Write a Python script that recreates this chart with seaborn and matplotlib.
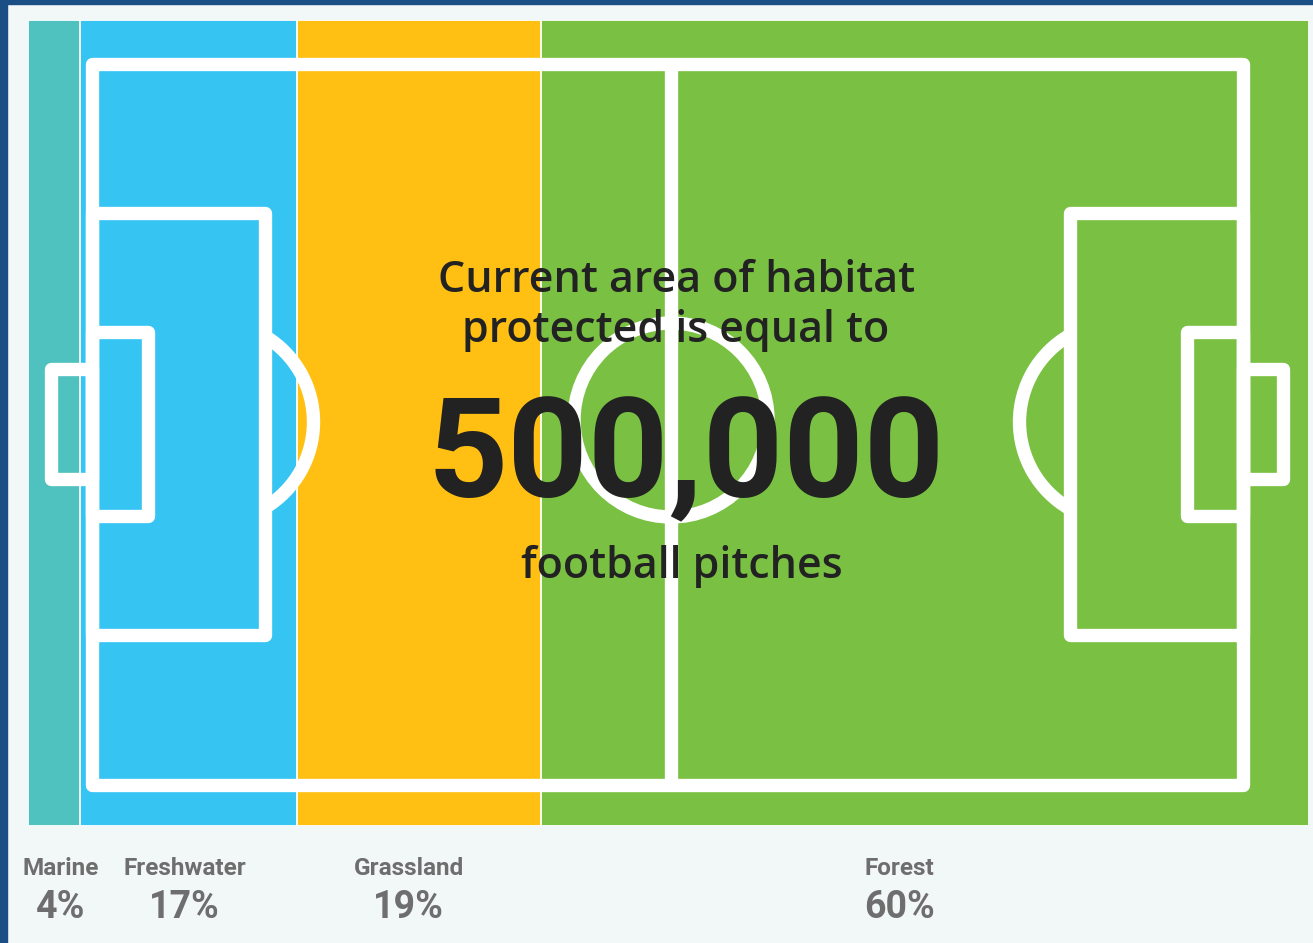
import numpy as np
import matplotlib
matplotlib.use("Agg")
import matplotlib.pyplot as plt
import matplotlib.patches as mpatches
import matplotlib.transforms as mtrans
import seaborn as sns

# ---- data ----
habitats = ["Marine", "Freshwater", "Grassland", "Forest"]
shares = [4, 17, 19, 60]
percent_labels = ["4%", "17%", "19%", "60%"]
colors = ["#4FC1BE", "#36C5F3", "#FFC013", "#7AC143"]
label_x = [2.5, 12.2, 29.7, 68.0]   # label anchor positions on the share axis (%)
headline = ["Current area of habitat", "protected is equal to"]
big_number = "500,000"
footer = "football pitches"

W, H = 1313, 943
DPI = 100
BG = "#F2F7F7"
DARK = "#1C4E86"

sns.set_theme(style="white")
plt.rcParams["font.family"] = ["Roboto", "DejaVu Sans"]

fig = plt.figure(figsize=(W / DPI, H / DPI), dpi=DPI, facecolor=BG)

# dark frame on top and left
fig.patches.append(mpatches.Rectangle((0, 0), 7 / W, 1, transform=fig.transFigure,
                                      color=DARK, zorder=0))
fig.patches.append(mpatches.Rectangle((0, 1 - 4 / H), 1, 4 / H, transform=fig.transFigure,
                                      color=DARK, zorder=0))

# ---- stacked 100% bar ----
left_px, right_px, top_px, bot_px = 28.3, 1309, 20, 826
ax = fig.add_axes([left_px / W, (H - bot_px) / H, (right_px - left_px) / W, (bot_px - top_px) / H])
cum = np.cumsum(shares)
for end, c in zip(cum[::-1], colors[::-1]):
    sns.barplot(x=[end], y=["habitat"], orient="h", color=c, saturation=1,
                width=1.0, edgecolor="white", linewidth=1.3, ax=ax)
ax.set_xlim(0, 100)
ax.set_ylim(-0.5, 0.5)
ax.axis("off")

# ---- overlay in pixel coordinates: pitch + text ----
ov = fig.add_axes([0, 0, 1, 1], facecolor="none")
ov.set_xlim(0, W)
ov.set_ylim(H, 0)
ov.axis("off")

lw = 9.6
line_kw = dict(fill=False, ec="white", lw=lw, joinstyle="round")

def rect(x0, y0, x1, y1):
    ov.add_patch(mpatches.Rectangle((x0, y0), x1 - x0, y1 - y0, **line_kw))

# outer boundary
rect(92, 63.5, 1243, 784.5)
# halfway line
ov.plot([671, 671], [63.5, 784.5], color="white", lw=lw, solid_capstyle="butt")
# centre circle
ov.add_patch(mpatches.Circle((671, 420), 97, fill=False, ec="white", lw=lw))
# left penalty area, goal area, goal
rect(92, 213, 265, 634.5)
rect(92, 332, 148, 516)
rect(51, 369, 92, 479)
# right penalty area, goal area, goal
rect(1070, 213, 1243, 634.5)
rect(1186.5, 332, 1243, 516)
rect(1243, 369, 1282.5, 479)
# penalty arcs
ov.add_patch(mpatches.Arc((213.5, 422), 200, 200, theta1=-59, theta2=59, ec="white", lw=lw))
ov.add_patch(mpatches.Arc((1119.5, 422), 200, 200, theta1=180 - 60, theta2=180 + 60, ec="white", lw=lw))

# headline text
TXT = "#222222"
head_font = ["Open Sans", "DejaVu Sans"]
ov.text(677, 292, headline[0], ha="center", va="baseline", fontsize=31, color=TXT,
        fontweight="semibold", family=head_font)
ov.text(676, 342, headline[1], ha="center", va="baseline", fontsize=31, color=TXT,
        fontweight="semibold", family=head_font)
ov.text(686, 497, big_number, ha="center", va="baseline", fontsize=101, color=TXT, fontweight="bold")
ov.text(682, 578, footer, ha="center", va="baseline", fontsize=31, color=TXT,
        fontweight="semibold", family=head_font)

# category labels under the bar
GRAY = "#6E6E6E"
tr = mtrans.blended_transform_factory(ax.transData, ov.transData)
for name, pct, xl in zip(habitats, percent_labels, label_x):
    ov.text(xl, 875, name, transform=tr, ha="center", va="baseline", fontsize=17.5,
            color=GRAY, fontweight="bold")
    ov.text(xl, 918, pct, transform=tr, ha="center", va="baseline", fontsize=27,
            color=GRAY, fontweight="bold")

fig.savefig("out.png", dpi=DPI, facecolor=BG)
